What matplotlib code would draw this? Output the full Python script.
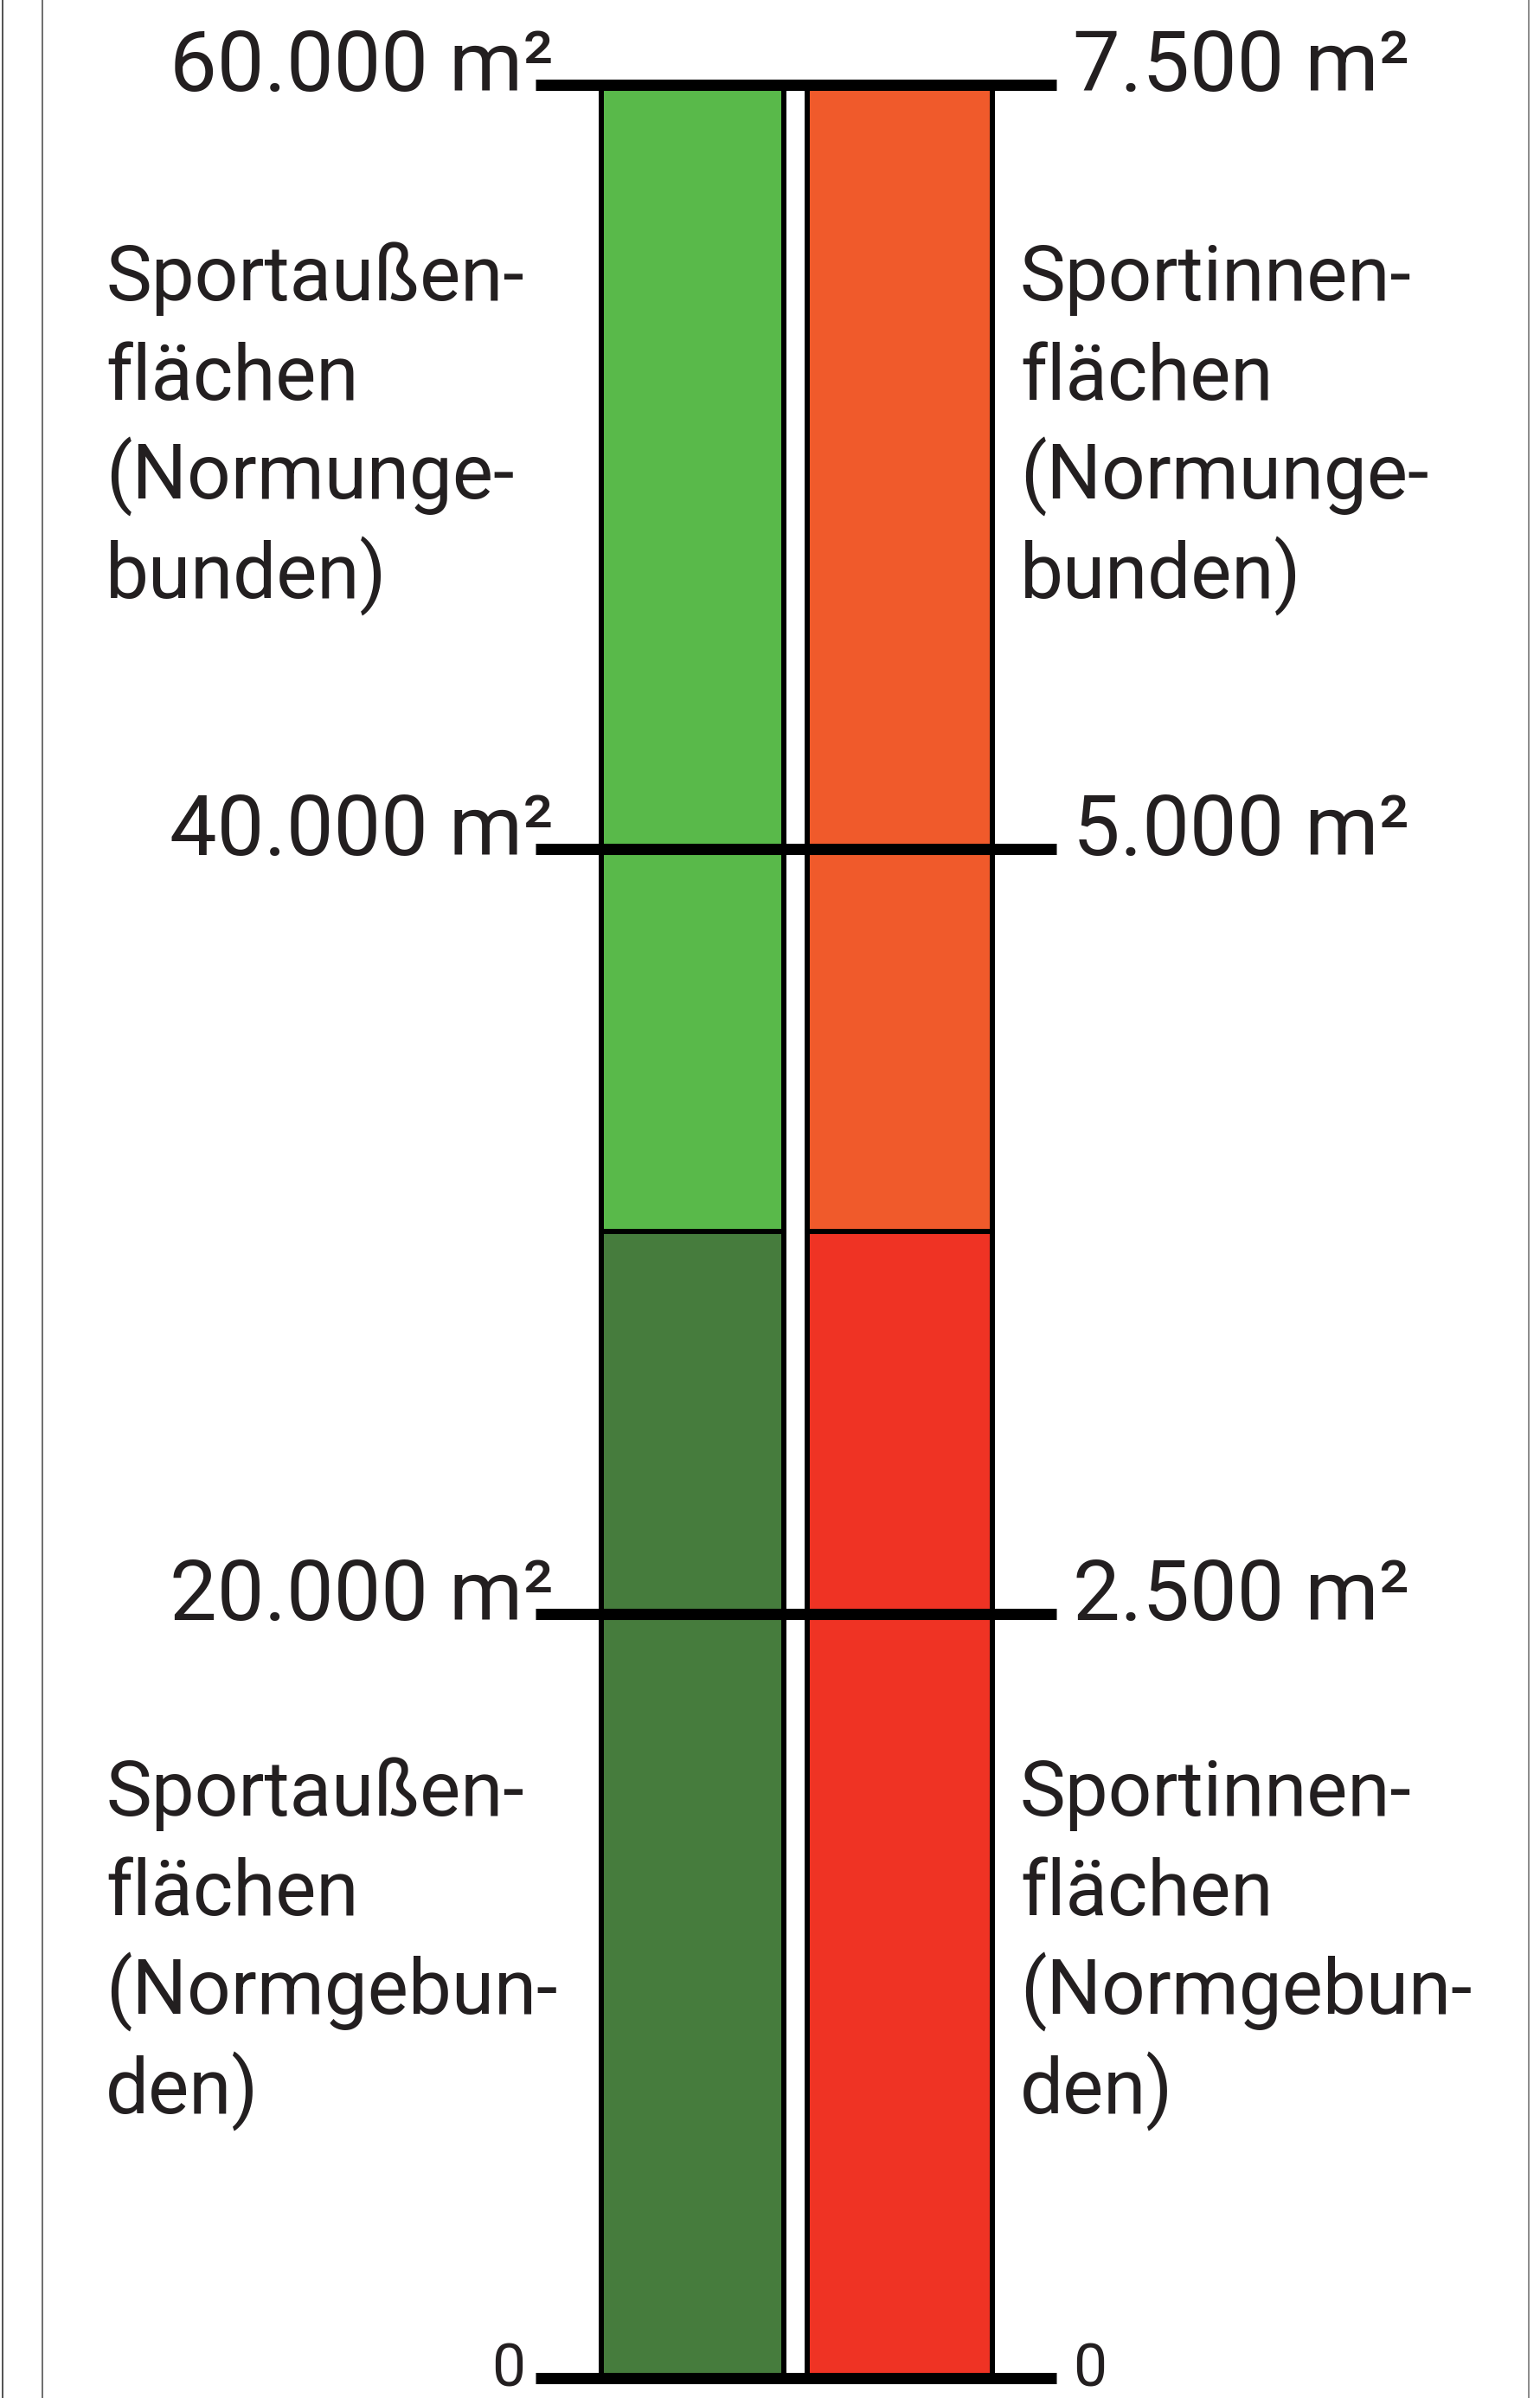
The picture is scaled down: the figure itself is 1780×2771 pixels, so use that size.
import matplotlib
matplotlib.use('Agg')
import matplotlib.pyplot as plt
from matplotlib.lines import Line2D

plt.rcParams['font.family'] = ['Roboto', 'DejaVu Sans']

# Flächen in m²: links Sportaußenflächen, rechts Sportinnenflächen
normgebunden = [30000, 3750]
normungebunden = [30000, 3750]
left_ticks = [0, 20000, 40000, 60000]
right_ticks = [0, 2500, 5000, 7500]
upper_labels = [['Sportaußen-', 'flächen', '(Normunge-', 'bunden)'],
                ['Sportinnen-', 'flächen', '(Normunge-', 'bunden)']]
lower_labels = [['Sportaußen-', 'flächen', '(Normgebun-', 'den)'],
                ['Sportinnen-', 'flächen', '(Normgebun-', 'den)']]

W, H = 1780, 2771
TEXT = '#231f20'


def fmt(v):
    if v == 0:
        return '0'
    return '{:,}'.format(v).replace(',', '.') + ' m²'


fig = plt.figure(figsize=(W / 100, H / 100), dpi=100)
fig.patch.set_facecolor('white')

ax = fig.add_axes([0, 23 / H, 1, 2650 / H])
ax.set_xlim(0, W)
ax.set_ylim(0, left_ticks[-1])
ax2 = ax.twinx()
ax2.set_ylim(0, right_ticks[-1])
for a in (ax, ax2):
    a.axis('off')

# Säulen
bar_kw = dict(edgecolor='black', linewidth=4.3, clip_on=False)
ax.bar(800, normgebunden[0], width=211, color='#467c3d', **bar_kw)
ax.bar(800, normungebunden[0], bottom=normgebunden[0], width=211,
       color='#59b94a', **bar_kw)
ax2.bar(1040, normgebunden[1], width=214, color='#ef3324', **bar_kw)
ax2.bar(1040, normungebunden[1], bottom=normgebunden[1], width=214,
        color='#f05a2b', **bar_kw)

# Skalenstriche über beide Säulen
ax2.hlines(right_ticks, 619, 1221, color='black', linewidth=9.4,
           capstyle='butt', zorder=5, clip_on=False)

for lv, rv in zip(left_ticks, right_ticks):
    size = 50 if lv == 0 else 70
    dy = -7 if lv == 0 else -5
    ax.annotate(fmt(lv), (640 if lv else 607, lv), xytext=(0, dy),
                textcoords='offset points', ha='right', va='baseline',
                fontsize=size, color=TEXT, annotation_clip=False)
    ax2.annotate(fmt(rv), (1240, rv), xytext=(0, dy),
                 textcoords='offset points', ha='left', va='baseline',
                 fontsize=size, color=TEXT, annotation_clip=False)

# Beschriftung der Segmente
def block(lines, x, y0):
    for i, line in enumerate(lines):
        fig.text(x / W, 1 - (y0 + i * 115) / H, line, ha='left',
                 va='baseline', fontsize=64, color=TEXT)


block(upper_labels[0], 122, 347)
block(upper_labels[1], 1179, 347)
block(lower_labels[0], 122, 2098)
block(lower_labels[1], 1179, 2098)

# Seitenränder
for x, c, lw in [(3, '#333333', 1.2), (49, '#555555', 1.2), (1767, '#777777', 1.2)]:
    fig.add_artist(Line2D([x / W, x / W], [0, 1], color=c, linewidth=lw))

fig.savefig('out.png', dpi=100, facecolor='white')
